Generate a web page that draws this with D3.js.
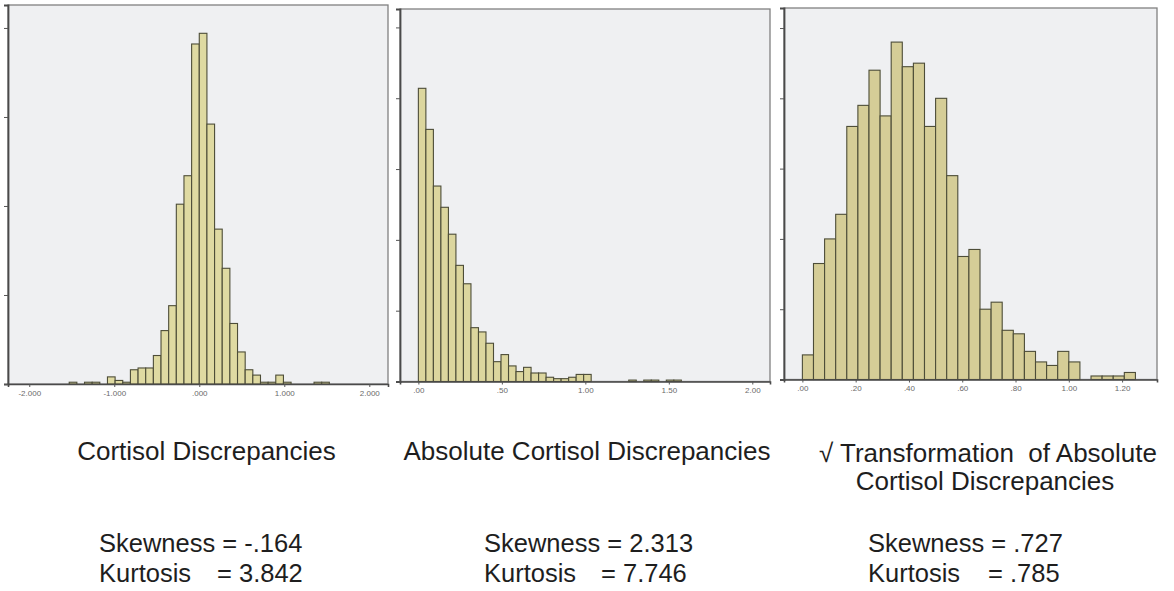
<!DOCTYPE html>
<html><head><meta charset="utf-8">
<script src="https://cdn.jsdelivr.net/npm/d3@7"></script>
<style>
body{margin:0;background:#fff;}
text{font-family:"Liberation Sans",Arial,sans-serif;}
</style>
</head><body>
<svg id="chart" width="1174" height="591"></svg>
<script>
// ---------- data ----------
// Panel 1: Cortisol Discrepancies (bin width 0.09, first bin starts at -17*0.09)
const cortisolBinWidth = 0.09;
const cortisolFirstBinIndex = -17;
const cortisolCounts = [1,0,1,1,0,4,2,1,8,9,9,16,30,44,101,117,191,197,146,87,65,34,18,8,5,1,1,5,1,0,0,0,1,1];
const cortisolTicks = [-2,-1,0,1,2];
const cortisolTickLabels = ["-2.000","-1.000",".000","1.000","2.000"];

// Panel 2: Absolute Cortisol Discrepancies (bin width 0.045, starting at 0)
const absBinWidth = 0.045;
const absCounts = [207,178,138,123,104,82,69,38,35,27,14,19,11,7,10,6,6,3,2,2,3,5,5,0,0,0,0,0,1,0,1,1,0,1,1];
const absTicks = [0,0.5,1,1.5,2];
const absTickLabels = [".00",".50","1.00","1.50","2.00"];

// Panel 3: sqrt transform (bin width 1/24, starting at 0)
const sqrtBinWidth = 1/24;
const sqrtCounts = [7,33,40,47,72,78,88,75,96,89,90,72,80,58,35,37,20,22,14,13,8,5,4,8,5,0,1,1,1,2];
const sqrtTicks = [0,0.2,0.4,0.6,0.8,1.0,1.2];
const sqrtTickLabels = [".00",".20",".40",".60",".80","1.00","1.20"];

const titles = [["Cortisol Discrepancies"],["Absolute Cortisol Discrepancies"],["\u221A Transformation  of Absolute","Cortisol Discrepancies"]];
const skewness = ["-.164","2.313",".727"];
const kurtosis = ["3.842","7.746",".785"];

// ---------- layout ----------
const panels = [
  {box:{l:8,r:388,t:5,b:384}, xd:[-2.25,2.22], yd:[0,212.9], yt:[0,50,100,150,200],
   bins:cortisolCounts.map((c,i)=>({x0:(cortisolFirstBinIndex+i)*cortisolBinWidth, x1:(cortisolFirstBinIndex+i+1)*cortisolBinWidth, c})),
   ticks:cortisolTicks, labels:cortisolTickLabels, fill:"#dfdaa2",
   title:{cx:[206.5], by:[460]}, stats:{x:99, eqx:217}},
  {box:{l:400,r:770,t:9,b:381.5}, xd:[-0.11,2.106], yd:[0,263], yt:[0,50,100,150,200,250],
   bins:absCounts.map((c,i)=>({x0:i*absBinWidth, x1:(i+1)*absBinWidth, c})),
   ticks:absTicks, labels:absTickLabels, fill:"#dcd69e",
   title:{cx:[587], by:[460]}, stats:{x:484, eqx:601}},
  {box:{l:784,r:1157,t:8,b:379.5}, xd:[-0.069,1.331], yd:[0,105.7], yt:[0,20,40,60,80,100],
   bins:sqrtCounts.map((c,i)=>({x0:i*sqrtBinWidth, x1:(i+1)*sqrtBinWidth, c})),
   ticks:sqrtTicks, labels:sqrtTickLabels, fill:"#d5cd97",
   title:{cx:[988,985], by:[462,490]}, stats:{x:868, eqx:988}}
];

const svg = d3.select("#chart");

panels.forEach((p,pi)=>{
  const x = d3.scaleLinear().domain(p.xd).range([p.box.l,p.box.r]);
  const y = d3.scaleLinear().domain(p.yd).range([p.box.b,p.box.t]);
  const g = svg.append("g");
  g.append("rect").attr("x",p.box.l).attr("y",p.box.t)
    .attr("width",p.box.r-p.box.l).attr("height",p.box.b-p.box.t)
    .attr("fill","#eff0f2").attr("stroke","#808080").attr("stroke-width",1.3);

  g.selectAll("rect.bar").data(p.bins.filter(d=>d.c>0)).join("rect")
    .attr("class","bar")
    .attr("x",d=>x(d.x0)).attr("width",d=>x(d.x1)-x(d.x0))
    .attr("y",d=>y(d.c)).attr("height",d=>y(0)-y(d.c))
    .attr("fill",p.fill).attr("stroke","#4d4d38").attr("stroke-width",1.1);

  // y axis (ticks only; labels are cropped in the reference)
  const ya = g.append("g").attr("transform",`translate(${p.box.l},0)`)
    .call(d3.axisLeft(y).tickValues(p.yt).tickSize(4).tickFormat(""));
  ya.select(".domain").attr("stroke","#4a4a4a").attr("stroke-width",1.8);
  ya.selectAll(".tick line").attr("stroke","#555");

  // x axis
  const xa = g.append("g").attr("transform",`translate(0,${p.box.b})`)
    .call(d3.axisBottom(x).tickValues(p.ticks).tickSize(3).tickPadding(3)
      .tickFormat((d,i)=>p.labels[i]));
  xa.select(".domain").attr("stroke","#4a4a4a").attr("stroke-width",1.6);
  xa.selectAll(".tick line").attr("stroke","#555");
  xa.selectAll(".tick text").attr("fill","#6a6a6a").attr("font-size",8)
    .style("font-family","'Liberation Sans',Arial,sans-serif");

  // titles
  titles[pi].forEach((t,j)=>{
    svg.append("text").attr("x",p.title.cx[j]).attr("y",p.title.by[j])
      .attr("text-anchor","middle").attr("font-size",26).attr("fill","#1e1e1e")
      .attr("xml:space","preserve").text(t);
  });
  // stats
  svg.append("text").attr("x",p.stats.x).attr("y",552).attr("font-size",25.5).attr("fill","#1e1e1e")
    .text("Skewness = "+skewness[pi]);
  svg.append("text").attr("x",p.stats.x).attr("y",582).attr("font-size",25.5).attr("fill","#1e1e1e")
    .text("Kurtosis");
  svg.append("text").attr("x",p.stats.eqx).attr("y",582).attr("font-size",25.5).attr("fill","#1e1e1e")
    .text("= "+kurtosis[pi]);
});
</script>
</body></html>
